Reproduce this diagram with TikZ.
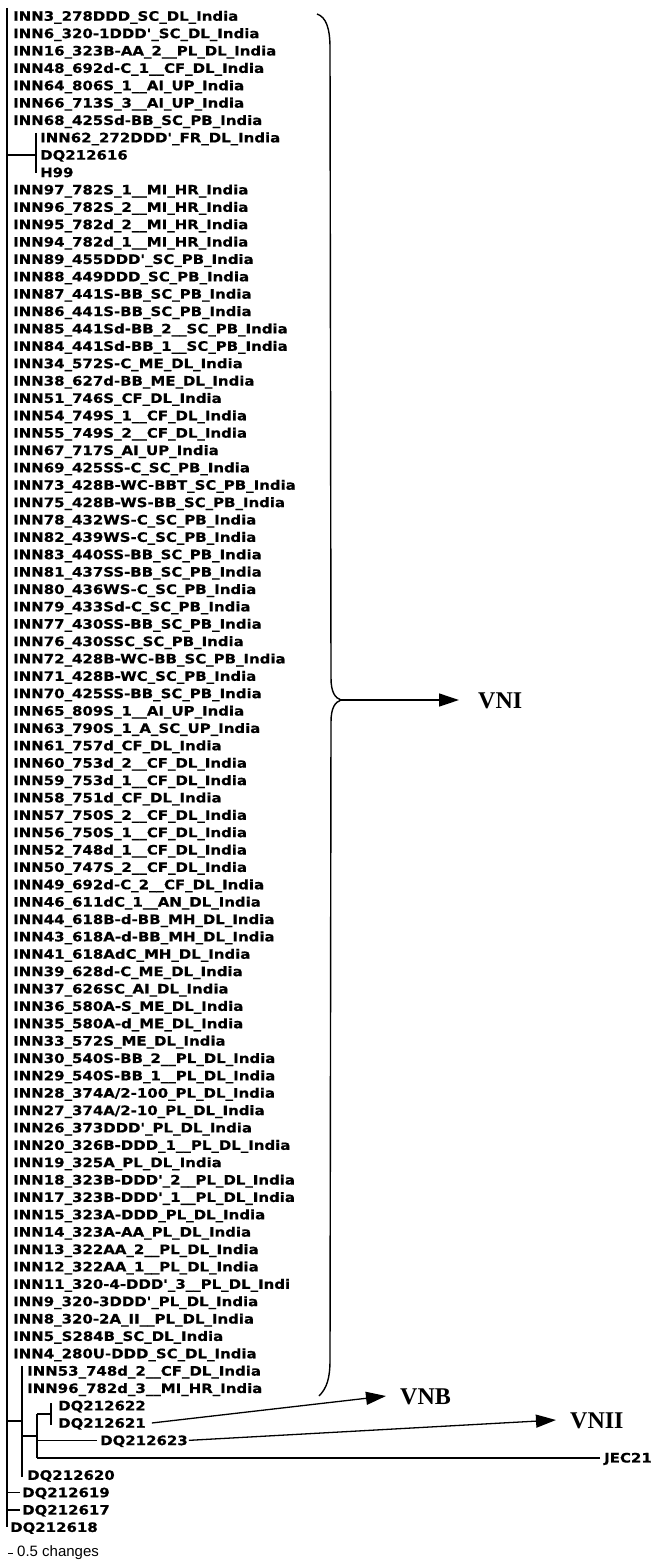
\documentclass[tikz,border=0pt]{standalone}
\usepackage{fontspec}
\setmainfont{Liberation Serif}
\newfontfamily\labfont[FakeStretch=1.15,FakeBold=0.6]{DejaVu Sans}
\newfontfamily\vnfont{Liberation Serif}
\newfontfamily\scfont{Liberation Sans}
\usetikzlibrary{arrows.meta}
\begin{document}
\begin{tikzpicture}[x=1pt,y=-1pt,
  lab/.style={font=\labfont\bfseries\fontsize{13}{14}\selectfont, anchor=west, inner sep=0pt, text height=9.5pt, text depth=0pt},
  vn/.style={font=\vnfont\bfseries\fontsize{24}{26}\selectfont, anchor=west, inner sep=0pt, text height=16pt, text depth=0pt},
  clade/.style={line width=1.6pt},
  brace/.style={line width=1.4pt},
  arr/.style={line width=1.3pt, -{Triangle[length=20pt,width=13pt]}}]
\useasboundingbox (0,0) rectangle (654,1562);
% labels rows 0-6
\foreach \lab [count=\i from 0] in {
INN3\_278DDD\_SC\_DL\_India,
INN6\_320-1DDD'\_SC\_DL\_India,
INN16\_323B-AA\_2\_\_PL\_DL\_India,
INN48\_692d-C\_1\_\_CF\_DL\_India,
INN64\_806S\_1\_\_AI\_UP\_India,
INN66\_713S\_3\_\_AI\_UP\_India,
INN68\_425Sd-BB\_SC\_PB\_India}
  \node[lab] (r\i) at (13,{16+17.37*\i}) {\lab};
% subclade rows 7-9
\foreach \lab [count=\i from 7] in {INN62\_272DDD'\_FR\_DL\_India, DQ212616, H99}
  \node[lab] (r\i) at (40,{16+17.37*\i}) {\lab};
% rows 10-77
\foreach \lab [count=\i from 10] in {
INN97\_782S\_1\_\_MI\_HR\_India,
INN96\_782S\_2\_\_MI\_HR\_India,
INN95\_782d\_2\_\_MI\_HR\_India,
INN94\_782d\_1\_\_MI\_HR\_India,
INN89\_455DDD'\_SC\_PB\_India,
INN88\_449DDD\_SC\_PB\_India,
INN87\_441S-BB\_SC\_PB\_India,
INN86\_441S-BB\_SC\_PB\_India,
INN85\_441Sd-BB\_2\_\_SC\_PB\_India,
INN84\_441Sd-BB\_1\_\_SC\_PB\_India,
INN34\_572S-C\_ME\_DL\_India,
INN38\_627d-BB\_ME\_DL\_India,
INN51\_746S\_CF\_DL\_India,
INN54\_749S\_1\_\_CF\_DL\_India,
INN55\_749S\_2\_\_CF\_DL\_India,
INN67\_717S\_AI\_UP\_India,
INN69\_425SS-C\_SC\_PB\_India,
INN73\_428B-WC-BBT\_SC\_PB\_India,
INN75\_428B-WS-BB\_SC\_PB\_India,
INN78\_432WS-C\_SC\_PB\_India,
INN82\_439WS-C\_SC\_PB\_India,
INN83\_440SS-BB\_SC\_PB\_India,
INN81\_437SS-BB\_SC\_PB\_India,
INN80\_436WS-C\_SC\_PB\_India,
INN79\_433Sd-C\_SC\_PB\_India,
INN77\_430SS-BB\_SC\_PB\_India,
INN76\_430SSC\_SC\_PB\_India,
INN72\_428B-WC-BB\_SC\_PB\_India,
INN71\_428B-WC\_SC\_PB\_India,
INN70\_425SS-BB\_SC\_PB\_India,
INN65\_809S\_1\_\_AI\_UP\_India,
INN63\_790S\_1\_A\_SC\_UP\_India,
INN61\_757d\_CF\_DL\_India,
INN60\_753d\_2\_\_CF\_DL\_India,
INN59\_753d\_1\_\_CF\_DL\_India,
INN58\_751d\_CF\_DL\_India,
INN57\_750S\_2\_\_CF\_DL\_India,
INN56\_750S\_1\_\_CF\_DL\_India,
INN52\_748d\_1\_\_CF\_DL\_India,
INN50\_747S\_2\_\_CF\_DL\_India,
INN49\_692d-C\_2\_\_CF\_DL\_India,
INN46\_611dC\_1\_\_AN\_DL\_India,
INN44\_618B-d-BB\_MH\_DL\_India,
INN43\_618A-d-BB\_MH\_DL\_India,
INN41\_618AdC\_MH\_DL\_India,
INN39\_628d-C\_ME\_DL\_India,
INN37\_626SC\_AI\_DL\_India,
INN36\_580A-S\_ME\_DL\_India,
INN35\_580A-d\_ME\_DL\_India,
INN33\_572S\_ME\_DL\_India,
INN30\_540S-BB\_2\_\_PL\_DL\_India,
INN29\_540S-BB\_1\_\_PL\_DL\_India,
{INN28\_374A/2-100\_PL\_DL\_India},
{INN27\_374A/2-10\_PL\_DL\_India},
INN26\_373DDD'\_PL\_DL\_India,
INN20\_326B-DDD\_1\_\_PL\_DL\_India,
INN19\_325A\_PL\_DL\_India,
INN18\_323B-DDD'\_2\_\_PL\_DL\_India,
INN17\_323B-DDD'\_1\_\_PL\_DL\_India,
INN15\_323A-DDD\_PL\_DL\_India,
INN14\_323A-AA\_PL\_DL\_India,
INN13\_322AA\_2\_\_PL\_DL\_India,
INN12\_322AA\_1\_\_PL\_DL\_India,
INN11\_320-4-DDD'\_3\_\_PL\_DL\_Indi,
INN9\_320-3DDD'\_PL\_DL\_India,
INN8\_320-2A\_II\_\_PL\_DL\_India,
INN5\_S284B\_SC\_DL\_India,
INN4\_280U-DDD\_SC\_DL\_India}
  \node[lab] (r\i) at (13,{16+17.37*\i}) {\lab};
% bottom rows
\node[lab] (r78) at (27,{16+17.37*78}) {INN53\_748d\_2\_\_CF\_DL\_India};
\node[lab] (r79) at (27,{16+17.37*79}) {INN96\_782d\_3\_\_MI\_HR\_India};
\node[lab] (r80) at (58,{16+17.37*80}) {DQ212622};
\node[lab] (r81) at (58,{16+17.37*81}) {DQ212621};
\node[lab] (r82) at (100,{16+17.37*82}) {DQ212623};
\node[lab] (r83) at (604,{16+17.37*83}) {JEC21};
\node[lab] (r84) at (27,{16+17.37*84}) {DQ212620};
\node[lab] (r85) at (22,{16+17.37*85}) {DQ212619};
\node[lab] (r86) at (22,{16+17.37*86}) {DQ212617};
\node[lab] (r87) at (10,{16+17.37*87}) {DQ212618};
% tree
\coordinate (rootT) at (7,8);
\coordinate (rootB) at (7,1527);
\draw[clade] (rootT) -- (rootB);
% subclade INN62
\coordinate (pT) at (36,133);
\coordinate (pB) at (36,173);
\draw[clade] (pT) -- (pB);
\draw[clade] (7,155) -- (36,155);
% node A
\coordinate (aT) at (22,1366);
\coordinate (aB) at (22,1477);
\draw[clade] (aT) -- (aB);
\draw[clade] (7,1421) -- (22,1421);
% node B
\coordinate (bT) at (37,1414);
\coordinate (bB) at (37,1458);
\draw[clade] (bT) -- (bB);
\draw[clade] (22,1436) -- (37,1436);
% node C
\coordinate (cT) at (51,1403);
\coordinate (cB) at (51,1425);
\draw[clade] (cT) -- (cB);
\draw[clade] (37,1414) -- (51,1414);
% leaves with branches
\draw[clade] (37,{16+17.37*82}) -- ([xshift=-3pt]r82.west);
\draw[clade] (37,{16+17.37*83}) -- ([xshift=-4pt]r83.west);
\draw[clade] (7,{16+17.37*85}) -- ([xshift=-2pt]r85.west);
\draw[clade] (7,{16+17.37*86}) -- ([xshift=-2pt]r86.west);
% scale bar
\draw[line width=1pt] (8,1553) -- (13,1553);
\node[font=\scfont\fontsize{15}{17}\selectfont, anchor=west, inner sep=0pt] (scale) at (17,1553) {0.5 changes};
% brace for VNI
\coordinate (cusp) at (341,700);
\draw[brace] (317,14) .. controls (326,17) and (330,28) .. (330,48) -- (331,678)
  .. controls (331,692) and (335,698) .. (cusp)
  .. controls (335,702) and (331,708) .. (331,722) -- (330,1360)
  .. controls (330,1378) and (327,1388) .. (319,1396);
% group labels and arrows
\node[vn] (vni) at (478,700) {VNI};
\node[vn] (vnb) at (400,1396) {VNB};
\node[vn] (vnii) at (570,1420) {VNII};
\draw[arr] (cusp) -- ([xshift=-19pt]vni.west);
\draw[arr] ([xshift=6pt]r81.east) -- ([xshift=-14pt]vnb.west);
\draw[arr] ([xshift=1pt]r82.east) -- ([xshift=-14pt]vnii.west);
\end{tikzpicture}
\end{document}
